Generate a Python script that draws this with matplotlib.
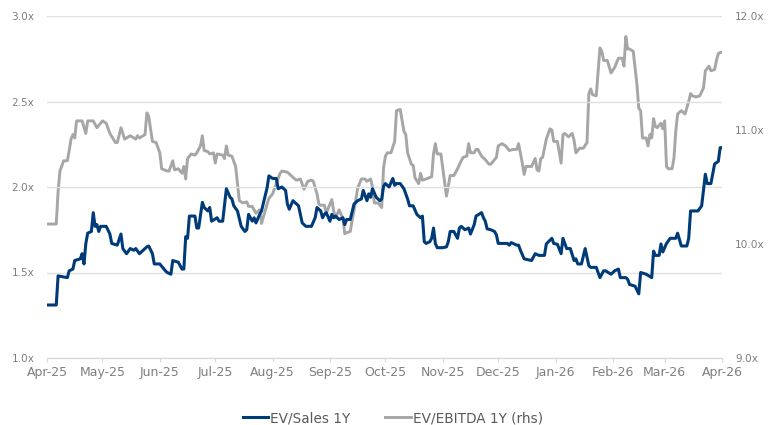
import datetime as dt

import matplotlib
matplotlib.use("Agg")
import matplotlib.pyplot as plt
import matplotlib.dates as mdates
from matplotlib.ticker import FuncFormatter

# day offsets are counted from this date
start = dt.date(2025, 4, 1)

# EV/Sales 1Y (left axis)
sales_days = [0, 5, 6, 11, 12, 14, 15, 18, 19, 20, 21, 22, 24, 25, 26, 27, 28, 29,
              32, 34, 35, 38, 40, 41, 43, 45, 47, 48, 50, 52, 54, 55, 57, 58, 61, 64,
              65, 67, 68, 71, 73, 74, 75, 76, 77, 80, 81, 82, 84, 85, 87, 88, 89, 92,
              93, 95, 97, 99, 100, 101, 103, 105, 107, 108, 109, 111, 112, 113, 115,
              116, 119, 120, 122, 124, 125, 127, 129, 130, 131, 133, 135, 136, 138,
              140, 143, 145, 146, 148, 149, 150, 151, 153, 154, 155, 156, 158, 160,
              161, 162, 164, 166, 168, 170, 171, 173, 174, 175, 176, 178, 180, 181,
              182, 183, 185, 187, 188, 189, 191, 193, 195, 196, 198, 200, 202, 203,
              204, 205, 207, 208, 209, 210, 211, 214, 216, 217, 218, 220, 221, 222,
              223, 224, 226, 228, 229, 231, 232, 235, 236, 237, 238, 240, 242, 243,
              244, 246, 249, 250, 251, 252, 254, 255, 256, 258, 262, 264, 266, 269,
              270, 273, 274, 276, 278, 279, 281, 283, 285, 286, 287, 289, 291, 293,
              294, 297, 299, 301, 302, 305, 307, 309, 310, 313, 314, 315, 318, 320,
              321, 324, 327, 328, 329, 331, 332, 333, 335, 337, 340, 341, 343, 346,
              347, 348, 352, 354, 356, 357, 359, 361, 363, 364, 365]
ev_sales = [1.31, 1.31, 1.48, 1.47, 1.51, 1.52, 1.57, 1.58, 1.61, 1.55, 1.67, 1.73,
            1.74, 1.85, 1.77, 1.78, 1.74, 1.77, 1.77, 1.725, 1.67, 1.66, 1.725, 1.64,
            1.61, 1.64, 1.63, 1.64, 1.61, 1.63, 1.65, 1.655, 1.61, 1.55, 1.55, 1.51,
            1.50, 1.49, 1.57, 1.56, 1.52, 1.52, 1.71, 1.70, 1.83, 1.83, 1.76, 1.76,
            1.91, 1.88, 1.86, 1.88, 1.80, 1.82, 1.80, 1.80, 1.99, 1.94, 1.93, 1.89,
            1.86, 1.77, 1.74, 1.75, 1.84, 1.80, 1.82, 1.79, 1.84, 1.86, 1.995, 2.065,
            2.05, 2.05, 1.99, 2.00, 1.98, 1.90, 1.87, 1.92, 1.90, 1.89, 1.79, 1.77,
            1.77, 1.82, 1.88, 1.86, 1.82, 1.84, 1.85, 1.80, 1.84, 1.82, 1.83, 1.81,
            1.82, 1.78, 1.81, 1.81, 1.90, 1.92, 1.93, 1.98, 1.92, 1.96, 1.94, 1.99,
            1.94, 1.92, 1.93, 2.005, 2.02, 2.00, 2.05, 2.01, 2.02, 2.02, 1.99, 1.93,
            1.89, 1.89, 1.84, 1.82, 1.83, 1.68, 1.67, 1.68, 1.70, 1.76, 1.67, 1.645,
            1.645, 1.65, 1.68, 1.74, 1.74, 1.72, 1.70, 1.76, 1.77, 1.75, 1.76, 1.725,
            1.78, 1.83, 1.85, 1.82, 1.80, 1.755, 1.75, 1.74, 1.72, 1.67, 1.67, 1.67,
            1.66, 1.675, 1.67, 1.66, 1.66, 1.63, 1.58, 1.57, 1.61, 1.60, 1.60, 1.667,
            1.70, 1.67, 1.665, 1.61, 1.70, 1.64, 1.64, 1.57, 1.58, 1.55, 1.55, 1.64,
            1.54, 1.53, 1.53, 1.47, 1.51, 1.51, 1.49, 1.51, 1.52, 1.47, 1.47, 1.46,
            1.43, 1.42, 1.375, 1.50, 1.49, 1.47, 1.625, 1.60, 1.60, 1.667, 1.62,
            1.67, 1.70, 1.70, 1.73, 1.655, 1.655, 1.70, 1.86, 1.86, 1.89, 2.075,
            2.02, 2.02, 2.135, 2.15, 2.23, 2.23]

# EV/EBITDA 1Y (right axis)
ebitda_days = [0, 5, 6, 7, 9, 11, 12, 13, 14, 15, 16, 19, 21, 22, 25, 27, 30, 32, 34,
               37, 38, 40, 42, 45, 46, 48, 49, 50, 52, 53, 54, 55, 57, 59, 61, 62, 65,
               66, 68, 69, 71, 73, 74, 75, 76, 78, 80, 81, 83, 84, 85, 87, 88, 90, 91,
               92, 95, 96, 97, 98, 100, 102, 104, 106, 108, 109, 111, 113, 115, 116,
               119, 120, 122, 124, 126, 127, 130, 132, 134, 135, 137, 139, 141, 143,
               144, 146, 147, 148, 150, 151, 154, 155, 156, 158, 159, 160, 161, 162,
               164, 165, 166, 168, 170, 172, 173, 175, 176, 177, 179, 181, 182, 183,
               184, 186, 188, 189, 191, 193, 194, 195, 197, 198, 199, 201, 202, 203,
               205, 208, 209, 210, 211, 213, 215, 216, 218, 220, 222, 224, 225, 227,
               228, 229, 231, 232, 233, 235, 237, 239, 240, 243, 244, 246, 248, 250,
               252, 254, 255, 257, 258, 259, 262, 264, 265, 266, 267, 268, 270, 272,
               273, 274, 276, 278, 279, 280, 282, 284, 285, 286, 288, 290, 292, 293,
               294, 295, 297, 299, 300, 301, 303, 305, 307, 309, 311, 312, 313, 314,
               315, 317, 319, 320, 321, 322, 324, 325, 326, 327, 328, 329, 330, 332,
               333, 334, 335, 336, 338, 339, 340, 341, 343, 345, 347, 348, 349, 351,
               353, 355, 356, 357, 358, 359, 361, 362, 363, 364, 365]
ev_ebitda = [10.175, 10.175, 10.46, 10.64, 10.73, 10.73, 10.82, 10.92, 10.96, 10.93,
             11.08, 11.08, 10.97, 11.08, 11.08, 11.02, 11.08, 11.06, 10.97, 10.89,
             10.89, 11.02, 10.92, 10.95, 10.94, 10.92, 10.95, 10.93, 10.95, 10.96,
             11.15, 11.12, 10.90, 10.89, 10.80, 10.66, 10.64, 10.64, 10.73, 10.65,
             10.66, 10.62, 10.68, 10.57, 10.75, 10.79, 10.78, 10.80, 10.86, 10.95,
             10.82, 10.81, 10.79, 10.80, 10.71, 10.79, 10.78, 10.75, 10.86, 10.78,
             10.77, 10.68, 10.38, 10.36, 10.37, 10.33, 10.33, 10.27, 10.30, 10.18,
             10.35, 10.40, 10.44, 10.53, 10.62, 10.64, 10.63, 10.60, 10.57, 10.56,
             10.57, 10.48, 10.55, 10.56, 10.55, 10.44, 10.35, 10.34, 10.34, 10.27,
             10.39, 10.29, 10.23, 10.30, 10.26, 10.23, 10.09, 10.10, 10.11, 10.21,
             10.29, 10.49, 10.57, 10.57, 10.55, 10.57, 10.50, 10.36, 10.36, 10.32,
             10.67, 10.77, 10.80, 10.80, 10.90, 11.17, 11.18, 10.99, 10.96, 10.80,
             10.70, 10.69, 10.58, 10.53, 10.62, 10.56, 10.57, 10.59, 10.79, 10.88,
             10.79, 10.79, 10.54, 10.42, 10.60, 10.60, 10.66, 10.73, 10.76, 10.77,
             10.88, 10.80, 10.80, 10.83, 10.83, 10.77, 10.74, 10.70, 10.70, 10.76,
             10.86, 10.88, 10.86, 10.82, 10.83, 10.83, 10.88, 10.71, 10.61, 10.68,
             10.68, 10.75, 10.65, 10.64, 10.75, 10.76, 10.92, 11.01, 11.00, 10.90,
             10.90, 10.71, 10.96, 10.97, 10.94, 10.97, 10.91, 10.80, 10.84, 10.84,
             10.89, 11.32, 11.36, 11.31, 11.30, 11.72, 11.69, 11.61, 11.61, 11.50,
             11.55, 11.63, 11.63, 11.56, 11.82, 11.71, 11.71, 11.69, 11.40, 11.19,
             11.17, 10.93, 10.93, 10.86, 10.96, 10.93, 11.10, 11.03, 11.02, 11.06,
             11.01, 11.08, 10.68, 10.66, 10.66, 10.75, 10.99, 11.14, 11.17, 11.14,
             11.25, 11.32, 11.30, 11.29, 11.30, 11.37, 11.52, 11.54, 11.56, 11.52,
             11.53, 11.61, 11.67, 11.68, 11.68]

sales_dates = [start + dt.timedelta(days=d) for d in sales_days]
ebitda_dates = [start + dt.timedelta(days=d) for d in ebitda_days]

navy = "#003b79"
grey = "#a6a6a6"
label_grey = "#7f7f7f"

plt.rcParams["font.family"] = "DejaVu Sans"

fig = plt.figure(figsize=(7.7, 4.25), dpi=100)
ax = fig.add_axes([47 / 770, 1 - 358 / 425, 675 / 770, 342 / 425])
ax2 = ax.twinx()

# grey series sits behind the navy one
ax.set_zorder(ax2.get_zorder() + 1)
ax.patch.set_visible(False)

ax2.plot(ebitda_dates, ev_ebitda, color=grey, lw=2.1, solid_joinstyle="round",
         label="EV/EBITDA 1Y (rhs)")
ax.plot(sales_dates, ev_sales, color=navy, lw=2.2, solid_joinstyle="round",
        label="EV/Sales 1Y")

ax.set_xlim(start, dt.date(2026, 4, 1))
ax.set_ylim(1.0, 3.0)
ax2.set_ylim(9.0, 12.0)

ax.set_yticks([1.0, 1.5, 2.0, 2.5, 3.0])
ax2.set_yticks([9.0, 10.0, 11.0, 12.0])
fmt = FuncFormatter(lambda v, _: f"{v:.1f}x")
ax.yaxis.set_major_formatter(fmt)
ax2.yaxis.set_major_formatter(fmt)

ax.xaxis.set_major_locator(mdates.MonthLocator())
ax.xaxis.set_major_formatter(mdates.DateFormatter("%b-%y"))

ax.grid(axis="y", color="#e0e0e0", lw=1.0)
ax.set_axisbelow(True)

for a in (ax, ax2):
    for side in ("top", "left", "right"):
        a.spines[side].set_visible(False)
    a.spines["bottom"].set_color("#d9d9d9")
    a.tick_params(colors=label_grey)

ax.tick_params(axis="y", length=0, pad=9, labelsize=7.6)
ax2.tick_params(axis="y", length=0, pad=9.5, labelsize=7.6)
ax.tick_params(axis="x", length=3, color="#d9d9d9", pad=3, labelsize=9)

handles = ax.get_lines() + ax2.get_lines()
fig.legend(handles, [h.get_label() for h in handles], loc="center",
           bbox_to_anchor=(0.51, 1 - 418 / 425), ncol=2, frameon=False,
           fontsize=9.8, labelcolor="#595959", handlelength=1.9,
           handletextpad=0.15, columnspacing=2.5)

fig.savefig("out.png", dpi=100)
